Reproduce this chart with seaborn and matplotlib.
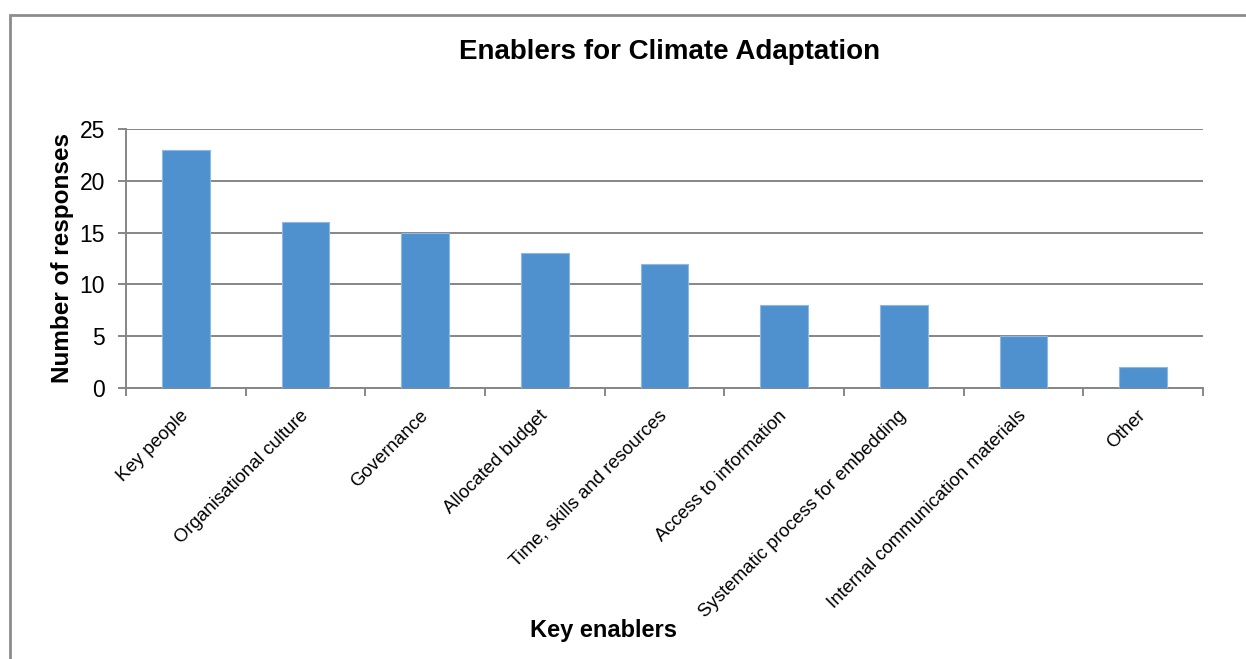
import matplotlib
matplotlib.use("Agg")
import matplotlib.pyplot as plt
import seaborn as sns
import pandas as pd
from matplotlib.patches import Rectangle

categories = ["Key people", "Organisational culture", "Governance", "Allocated budget",
              "Time, skills and resources", "Access to information",
              "Systematic process for embedding", "Internal communication materials", "Other"]
values = [23, 16, 15, 13, 12, 8, 8, 5, 2]
yticks = [0, 5, 10, 15, 20, 25]

sns.set_theme(style="white")
plt.rcParams['font.family'] = ['Liberation Sans', 'DejaVu Sans']
plt.rcParams['text.color'] = 'black'
plt.rcParams['xtick.labelcolor'] = 'black'
plt.rcParams['ytick.labelcolor'] = 'black'

W, H = 1246, 659
fig = plt.figure(figsize=(W / 100, H / 100), dpi=100)
ax = fig.add_axes([126 / W, 1 - 388 / H, (1203 - 126) / W, (388 - 129) / H])

df = pd.DataFrame({"cat": categories, "val": values})
sns.barplot(data=df, x="cat", y="val", color="#4F91CE", saturation=1, width=0.4,
            edgecolor="#8DB8E2", linewidth=0.8, ax=ax, zorder=3)

gc = "#868686"
ax.set_ylim(0, 25)
ax.set_xlim(-0.5, len(categories) - 0.5)
ax.set_yticks(yticks)
ax.set_yticklabels([str(v) for v in yticks], fontsize=16.5, color="black")
ax.yaxis.grid(True, color=gc, linewidth=1.4, zorder=0)
ax.set_axisbelow(True)
for s in ["top", "right"]:
    ax.spines[s].set_visible(False)
for s in ["left", "bottom"]:
    ax.spines[s].set_color(gc)
    ax.spines[s].set_linewidth(1.4)
ax.tick_params(axis="y", which="major", left=True, length=6, width=1.4, color=gc, pad=9)

ax.set_xticks(range(len(categories)))
ax.set_xticklabels(categories, rotation=45, ha="right", rotation_mode="anchor",
                   fontsize=13.4, color="black")
ax.tick_params(axis="x", which="major", bottom=False, length=0, pad=18)
ax.set_xticks([i - 0.5 for i in range(len(categories) + 1)], minor=True)
ax.tick_params(axis="x", which="minor", bottom=True, length=6, width=1.4, color=gc)
for lab in ax.get_xticklabels():
    lab.set_va("center")

ax.set_xlabel("")
ax.set_ylabel("")

fig.text(670 / W, 1 - 52 / H, "Enablers for Climate Adaptation", ha="center", va="center",
         fontsize=20, fontweight="bold", color="black")
fig.text(604 / W, 1 - 631 / H, "Key enablers", ha="center", va="center",
         fontsize=17, fontweight="bold", color="black")
fig.text(63 / W, 1 - 258 / H, "Number of responses", ha="center", va="center",
         rotation=90, fontsize=17.5, fontweight="bold", color="black")

fig.patches.append(Rectangle((9.5 / W, -0.05), 1.2, 1 - 14.5 / H + 0.05,
                             transform=fig.transFigure, fill=False,
                             edgecolor="#8C8C8C", linewidth=2, zorder=0))

fig.savefig("out.png", dpi=100, facecolor="white")
